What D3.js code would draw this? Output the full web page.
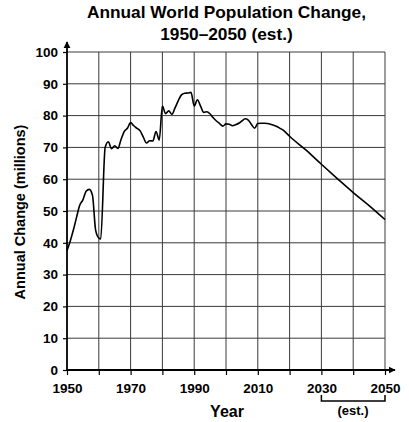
<!DOCTYPE html>
<html><head><meta charset="utf-8">
<script src="https://cdn.jsdelivr.net/npm/d3@7"></script>
<style>body{margin:0;background:#fff}svg{display:block;font-family:"Liberation Sans",Arial,sans-serif;font-weight:bold}</style>
</head><body>
<script>
const years = [1950,1951,1952,1953,1954,1955,1956,1957,1958,1959,1960,1960.6,1962,1963,1964,1965,1966,1967,1968,1969,1970,1971,1972,1973,1974,1975,1976,1977,1978,1979,1980,1981,1982,1983,1984,1985,1986,1987,1988,1989,1990,1991,1992,1993,1994,1995,1996,1997,1998,1999,2000,2001,2002,2003,2004,2005,2006,2007,2008,2009,2010,2011,2012,2013,2014,2015,2016,2017,2018,2019,2020,2025,2030,2035,2040,2045,2050];
const change = [37.5,40.5,44,48,51.8,53.5,56.2,56.8,55,44,41.5,41.2,70,71.8,69.6,70.5,69.7,72.5,75,76,77.8,76.8,76,75.2,73.2,71.4,72.1,72,75,72.3,83,80.6,81.5,80.4,82.5,84.7,86.5,87,87.1,87.3,83,85,83,81,81.2,80.5,79.3,78.3,77.5,76.7,77.4,77.3,76.8,77.1,77.6,78.3,79,78.6,77.2,76,77.5,77.6,77.6,77.5,77.3,77,76.6,76,75.4,74.5,73.5,69.3,64.7,60.2,55.8,51.7,47.3];
const xTicks = [1950,1970,1990,2010,2030,2050];
const xGrid = [1950,1960,1970,1980,1990,2000,2010,2020,2030,2040,2050];
const yTicks = [0,10,20,30,40,50,60,70,80,90,100];
const titleLines = ["Annual World Population Change,","1950\u20132050 (est.)"];

const W=409,H=422;
const svg=d3.select("body").append("svg").attr("width",W).attr("height",H);
const x=d3.scaleLinear().domain([1950,2050]).range([67,385]);
const y=d3.scaleLinear().domain([0,100]).range([370,52]);

svg.selectAll(".t").data(titleLines).enter().append("text")
  .attr("x",226.5).attr("y",(d,i)=>18+i*22).attr("text-anchor","middle")
  .attr("font-size",17.3).text(d=>d);

// grid
svg.append("g").selectAll("line").data(xGrid.slice(1)).enter().append("line")
  .attr("x1",d=>x(d)).attr("x2",d=>x(d)).attr("y1",y(0)).attr("y2",y(100))
  .attr("stroke","#3a3a3a").attr("stroke-width",1);
svg.append("g").selectAll("line").data(yTicks.slice(1)).enter().append("line")
  .attr("x1",x(1950)).attr("x2",x(2050)).attr("y1",d=>y(d)).attr("y2",d=>y(d))
  .attr("stroke","#3a3a3a").attr("stroke-width",1);

// axes
const ya=d3.axisLeft(y).tickValues(yTicks).tickSize(4).tickPadding(5).tickFormat(d3.format("d"));
const gy=svg.append("g").attr("transform",`translate(${x(1950)},0)`).call(ya);
gy.select(".domain").remove();
gy.selectAll("text").attr("font-size",13.5).attr("font-family","Liberation Sans, Arial").attr("font-weight","bold").attr("fill","#000");
gy.selectAll("line").attr("stroke","#000").attr("stroke-width",1.2);

const xa=d3.axisBottom(x).tickValues(xGrid).tickSize(5).tickPadding(8).tickFormat(d=>xTicks.includes(d)?d:"");
const gx=svg.append("g").attr("transform",`translate(0,${y(0)})`).call(xa);
gx.select(".domain").remove();
gx.selectAll("text").attr("font-size",13.5).attr("font-family","Liberation Sans, Arial").attr("font-weight","bold").attr("fill","#000");
gx.selectAll("line").attr("stroke","#000").attr("stroke-width",1.2);

// axis lines with arrows
svg.append("defs").append("marker").attr("id","arr").attr("viewBox","0 0 10 10")
  .attr("refX",9).attr("refY",5).attr("markerWidth",4).attr("markerHeight",4).attr("orient","auto")
  .append("path").attr("d","M0,0L10,5L0,10z").attr("fill","#000");
svg.append("line").attr("x1",x(1950)).attr("x2",x(1950)).attr("y1",y(0)).attr("y2",y(100)-10)
  .attr("stroke","#000").attr("stroke-width",1.8).attr("marker-end","url(#arr)");
svg.append("line").attr("x1",x(1950)).attr("x2",x(2050)+10).attr("y1",y(0)).attr("y2",y(0))
  .attr("stroke","#000").attr("stroke-width",1.8).attr("marker-end","url(#arr)");

// data line
const line=d3.line().x((d,i)=>x(years[i])).y(d=>y(d)).curve(d3.curveMonotoneX);
svg.append("path").datum(change).attr("d",line).attr("fill","none")
  .attr("stroke","#000").attr("stroke-width",1.6).attr("stroke-linejoin","round");

// labels
svg.append("text").attr("transform","translate(25,212) rotate(-90)").attr("text-anchor","middle")
  .attr("font-size",14.5).text("Annual Change (millions)");
svg.append("text").attr("x",227).attr("y",417).attr("text-anchor","middle").attr("font-size",16).text("Year");
svg.append("path").attr("d",`M${x(2030)},395V401H${x(2050)}V395`).attr("fill","none").attr("stroke","#000").attr("stroke-width",1.5);
svg.append("text").attr("x",353).attr("y",415).attr("text-anchor","middle").attr("font-size",13).text("(est.)");
</script>
</body></html>
